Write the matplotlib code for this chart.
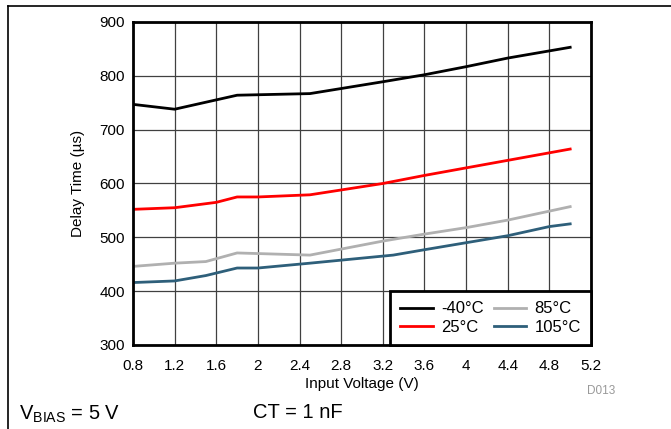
import matplotlib.pyplot as plt
import numpy as np

plt.rcParams['font.family'] = ['Liberation Sans', 'DejaVu Sans']

# data
v_m40 = [0.8, 1.2, 1.8, 2.5, 3.2, 3.6, 4.0, 4.4, 5.0]
t_m40 = [747, 738, 764, 767, 789, 802, 817, 833, 853]

v_25 = [0.8, 1.2, 1.6, 1.8, 2.0, 2.5, 3.2, 3.6, 4.0, 4.4, 5.0]
t_25 = [552, 555, 565, 575, 575, 579, 600, 615, 629, 643, 664]

v_85 = [0.8, 1.2, 1.5, 1.8, 2.5, 3.2, 3.6, 4.0, 4.4, 5.0]
t_85 = [446, 452, 455, 471, 467, 493, 506, 518, 532, 557]

v_105 = [0.8, 1.2, 1.5, 1.8, 2.0, 2.5, 3.3, 3.6, 4.0, 4.4, 4.8, 5.0]
t_105 = [416, 419, 429, 443, 443, 452, 467, 477, 490, 503, 520, 525]

xticks = [0.8, 1.2, 1.6, 2, 2.4, 2.8, 3.2, 3.6, 4, 4.4, 4.8, 5.2]
xtick_labels = ['0.8', '1.2', '1.6', '2', '2.4', '2.8', '3.2', '3.6', '4', '4.4', '4.8', '5.2']
yticks = [300, 400, 500, 600, 700, 800, 900]

fig = plt.figure(figsize=(6.71, 4.29), dpi=100)
ax = fig.add_axes([133/671, 84/429, 458/671, 323/429])

ax.plot(v_m40, t_m40, color='black', lw=2, label='-40°C')
ax.plot(v_25, t_25, color='#ff0000', lw=2, label='25°C')
ax.plot(v_85, t_85, color='#b0b0b0', lw=2, label='85°C')
ax.plot(v_105, t_105, color='#2e5f7a', lw=2, label='105°C')

ax.set_xlim(0.8, 5.2)
ax.set_ylim(300, 900)
ax.set_xticks(xticks)
ax.set_xticklabels(xtick_labels)
ax.set_yticks(yticks)
ax.tick_params(axis='x', length=0, labelsize=11, pad=10)
ax.tick_params(axis='y', length=0, labelsize=11, pad=6)
ax.grid(True, color='#404040', lw=0.9)
ax.set_axisbelow(True)
for s in ax.spines.values():
    s.set_linewidth(2)

ax.set_xlabel('Input Voltage (V)', fontsize=11, labelpad=3)
ax.set_ylabel('Delay Time (µs)', fontsize=11, labelpad=10)

leg = ax.legend(loc='lower right', ncol=2, fontsize=12, frameon=True, fancybox=False,
                borderaxespad=0, handlelength=1.95, columnspacing=0.6,
                handletextpad=0.5, labelspacing=0.22, borderpad=0.6)
leg.get_frame().set_edgecolor('black')
leg.get_frame().set_linewidth(2)
leg.get_frame().set_alpha(1)

fig.text(587/671, 1 - 391/429, 'D013', color='#999999', fontsize=8.5, ha='left', va='center')
fig.text(19/671, 1 - 414/429, r'V$_{\mathregular{BIAS}}$ = 5 V', fontsize=14.5, ha='left', va='center')
fig.text(253/671, 1 - 413/429, 'CT = 1 nF', fontsize=14.5, ha='left', va='center')

# partial frame at top and left
fig.add_artist(plt.Line2D([8/671, 1], [1 - 6/429, 1 - 6/429], color='black', lw=1.2))
fig.add_artist(plt.Line2D([8/671, 8/671], [0, 1 - 6/429], color='black', lw=1.2))

fig.savefig('out.png', dpi=100)
